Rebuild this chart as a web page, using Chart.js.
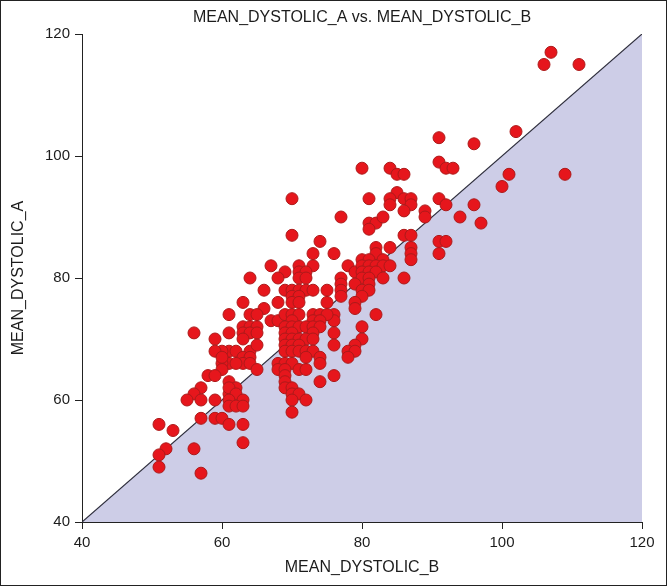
<!DOCTYPE html>
<html>
<head>
<meta charset="utf-8">
<script src="https://cdn.jsdelivr.net/npm/chart.js@4"></script>
<style>
    html, body { margin: 0; padding: 0; background: #fff; }
    #wrap { width: 667px; height: 586px; box-sizing: border-box; border: 1px solid #222; position: relative; }
</style>
</head>
<body>
<div id="wrap"><canvas id="dystolicChart"></canvas></div>
<script>
// Readings: MEAN_DYSTOLIC_B (x) and MEAN_DYSTOLIC_A (y), one pair per subject
const meanB = [
    107, 106, 111, 102, 91, 96, 91, 92, 93, 101, 109, 100, 91, 92, 96, 89, 89, 94, 97,
    80, 84, 85, 86, 81, 85, 84, 86, 87, 84, 87, 86, 77, 81, 82, 83, 81, 86, 87, 91, 92,
    91, 87, 87, 87, 84, 82, 82, 80, 81, 83, 78, 79, 80, 81, 82, 83, 84, 80, 81, 82,
    83, 86, 80, 81, 77, 77, 79, 81, 80, 81, 80, 79, 77, 77, 79, 82, 80, 80, 79, 78,
    79, 78, 76, 76, 76, 76, 76, 76,
    70, 70, 74, 73, 67, 69, 71, 73, 71, 72, 64, 68, 71, 72, 66, 69, 70, 71, 72, 73,
    75, 70, 71, 63, 66, 68, 70, 71, 75, 64, 65, 67, 68, 69, 70, 71, 73, 74, 75, 73,
    74, 70, 61, 63, 64, 65, 69, 70, 71, 72, 73, 74, 61, 63, 64, 65, 69, 70, 73, 69,
    70, 71, 72, 73, 59, 63, 61, 62, 64, 65, 69, 70, 71, 69, 70, 71, 72, 73, 60, 59,
    63, 64, 72, 74, 61, 63, 60, 64, 68, 69, 70, 74, 68, 69, 71, 72, 74, 69, 69, 69,
    70, 70, 71, 70, 72, 70, 56,
    60, 62, 65, 60, 58, 59, 61, 57, 56, 55, 57, 59, 61, 62, 61, 62, 61, 63, 61, 62,
    63, 57, 59, 60, 61, 63, 51, 53, 52, 51, 56, 63, 51, 57
];
const meanA = [
    117, 115, 115, 104, 103, 102, 99, 98, 98, 97, 97, 95, 93, 92, 92, 91, 90, 90, 89,
    98, 98, 97, 97, 93, 94, 93, 93, 93, 92, 92, 91, 90, 89, 89, 90, 88, 87, 87, 86, 86,
    84, 85, 84, 83, 85, 85, 84, 83, 83, 83, 82, 81, 82, 82, 82, 82, 82, 81, 81, 81,
    80, 80, 80, 80, 80, 79, 79, 79, 78, 78, 77, 76, 78, 77, 75, 74, 72, 70, 69, 68,
    68, 67, 84, 74, 73, 71, 69, 64,
    93, 87, 86, 84, 82, 81, 82, 82, 81, 81, 80, 80, 80, 80, 78, 78, 78, 78, 78, 78,
    78, 77, 77, 76, 75, 76, 76, 76, 76, 74, 74, 73, 73, 74, 74, 74, 74, 74, 74, 73,
    73, 73, 74, 72, 72, 72, 72, 72, 72, 72, 72, 72, 71, 71, 71, 71, 71, 71, 71, 70,
    70, 70, 70, 70, 70, 70, 68, 68, 68, 69, 69, 69, 69, 68, 68, 68, 68, 68, 68, 68,
    67, 67, 67, 67, 66, 66, 66, 66, 66, 66, 66, 66, 65, 65, 65, 65, 63, 64, 63, 62,
    62, 61, 61, 60, 60, 58, 71,
    67, 66, 65, 65, 64, 64, 63, 62, 61, 60, 60, 60, 61, 62, 62, 61, 60, 60, 59, 59,
    59, 57, 57, 57, 56, 56, 56, 55, 52, 51, 52, 53, 49, 48
];

// Line of equality, shaded underneath
const equalB = [40, 120];
const equalA = [40, 120];

const axisTicks = [40, 60, 80, 100, 120];
const chartTitle = 'MEAN_DYSTOLIC_A vs. MEAN_DYSTOLIC_B';
const xTitle = 'MEAN_DYSTOLIC_B';
const yTitle = 'MEAN_DYSTOLIC_A';

const fontFamily = "'Liberation Sans', Arial, sans-serif";
const textColor = '#1c1c1c';
const axisColor = '#222';

const points = meanB.map((b, i) => ({ x: b, y: meanA[i] }));
const equalLine = equalB.map((b, i) => ({ x: b, y: equalA[i] }));

// Title centred over the plot area rather than the whole canvas
const plotTitle = {
    id: 'plotTitle',
    afterDraw(chart) {
        const { ctx, chartArea } = chart;
        ctx.save();
        ctx.font = '16px ' + fontFamily;
        ctx.fillStyle = textColor;
        ctx.textAlign = 'center';
        ctx.textBaseline = 'middle';
        ctx.fillText(chartTitle, (chartArea.left + chartArea.right) / 2, 17);
        ctx.restore();
    }
};

const axisOptions = (title, titlePadding, size) => ({
    type: 'linear',
    min: 40,
    max: 120,
    afterBuildTicks: (scale) => {
        scale.ticks = axisTicks.map(v => ({ value: v }));
    },
    ticks: {
        color: textColor,
        font: { family: fontFamily, size: 15 },
        padding: 5
    },
    grid: {
        drawOnChartArea: false,
        drawTicks: true,
        tickLength: 7,
        color: axisColor
    },
    border: { color: axisColor, width: 1 },
    title: {
        display: true,
        text: title,
        color: textColor,
        font: { family: fontFamily, size: 16 },
        padding: titlePadding
    },
    afterFit: size
});

new Chart(document.getElementById('dystolicChart'), {
    type: 'scatter',
    data: {
        datasets: [
            {
                data: points,
                backgroundColor: 'rgb(230, 22, 28)',
                borderColor: 'rgb(172, 26, 26)',
                borderWidth: 1,
                pointRadius: 6,
                pointHoverRadius: 6,
                order: 1
            },
            {
                type: 'line',
                data: equalLine,
                borderColor: '#2e2e3c',
                borderWidth: 1.2,
                backgroundColor: 'rgb(205, 205, 231)',
                fill: 'start',
                pointRadius: 0,
                order: 2
            }
        ]
    },
    options: {
        responsive: true,
        maintainAspectRatio: false,
        animation: false,
        layout: { padding: { top: 33, right: 24, left: 0, bottom: 0 } },
        plugins: {
            legend: { display: false },
            tooltip: { enabled: false }
        },
        scales: {
            x: axisOptions(xTitle, { top: 0, bottom: 8 }, (scale) => { scale.height = 63; }),
            y: axisOptions(yTitle, { top: 8, bottom: 0 }, (scale) => { scale.width = 81; })
        }
    },
    plugins: [plotTitle]
});
</script>
</body>
</html>
